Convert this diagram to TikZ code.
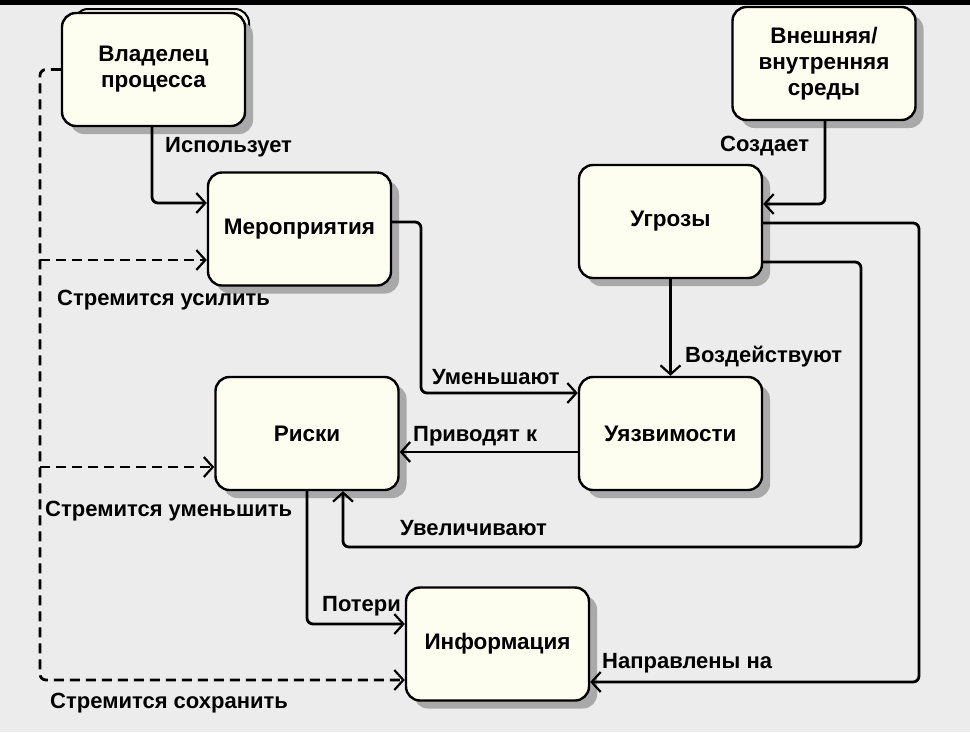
\documentclass[tikz,border=0pt]{standalone}
\usepackage{fontspec}
\setmainfont{Liberation Sans}
\usetikzlibrary{arrows.meta,shadows}
\definecolor{bg}{HTML}{ECECEC}
\definecolor{boxfill}{HTML}{FEFEF0}
\definecolor{shad}{HTML}{A9A9A9}
\tikzset{
 box/.style={draw=black, line width=2.4pt, rounded corners=14pt, fill=boxfill,
   minimum width=183pt, minimum height=113pt, align=center, inner sep=0pt,
   font=\fontsize{22.5}{26}\selectfont\bfseries,
   drop shadow={shadow xshift=8pt, shadow yshift=-8pt, fill=shad, opacity=1}},
 conn/.style={line width=2.8pt, rounded corners=6pt,
   -{Straight Barb[length=9pt,width=20pt,line width=2.2pt]}},
 dconn/.style={conn, dash pattern=on 10pt off 6pt},
 lbl/.style={font=\fontsize{22}{24}\selectfont\bfseries, inner sep=0pt, anchor=west},
}
\begin{document}
\begin{tikzpicture}[x=1pt,y=-1pt]
\useasboundingbox (0,0) rectangle (970,732);
\fill[bg] (0,0) rectangle (970,732);
\fill[black] (0,0) rectangle (970,5);

% stacked outline behind the owner box
\draw[line width=2pt, rounded corners=14pt, fill=boxfill] (74,9) rectangle (249,122);
\node[box] (owner) at (153.5,69.5) {Владелец\\процесса};
\node[box] (meas) at (299.5,229) {Мероприятия};
\node[box] (env) at (824,63.5) {Внешняя/\\внутренняя\\среды};
\node[box] (thr) at (670.5,221.5) {Угрозы};
\node[box] (risk) at (307,433.5) {Риски};
\node[box] (vul) at (670.5,433.5) {Уязвимости};
\node[box] (info) at (497.5,644) {Информация};

\coordinate (tb) at (40,680);
\coordinate (b1) at (40,260);
\coordinate (b2) at (40,467);

% owner -> measures
\draw[conn] (owner.south -| 152,0) |- (meas.west |- 0,203);
% dashed owner links
\draw[dconn] (owner.west) -| (tb) -- (info.west |- tb);
\draw[dconn] (b1) -- (meas.west |- b1);
\draw[dconn] (b2) -- (risk.west |- b2);
% measures -> vulnerabilities
\draw[conn] (meas.east |- 0,222) -- (421,222) -- (421,393) -- (vul.west |- 0,393);
% threats -> vulnerabilities
\draw[conn] (thr.south) -- (vul.north);
% environment -> threats
\draw[conn] (env.south -| 825,0) |- (thr.east |- 0,204);
% vulnerabilities -> risks
\draw[conn] (vul.west |- 0,452) -- (risk.east |- 0,452);
% threats -> risks
\draw[conn] (thr.east |- 0,262) -- (861,262) -- (861,547) -- (343,547) -- (risk.south -| 343,0);
% threats -> information
\draw[conn] (thr.east |- 0,223) -- (919,223) -- (919,682) -- (info.east |- 0,682);
% risks -> information
\draw[conn] (risk.south -| 307,0) |- (info.west |- 0,624);

\node[lbl] (l1) at (165,147) {Использует};
\node[lbl] (l2) at (57,300) {Стремится усилить};
\node[lbl] (l3) at (45,511) {Стремится уменьшить};
\node[lbl] (l4) at (50,703) {Стремится сохранить};
\node[lbl] (l5) at (432,377) {Уменьшают};
\node[lbl] (l6) at (685,357) {Воздействуют};
\node[lbl] (l7) at (720,146) {Создает};
\node[lbl] (l8) at (413,436) {Приводят к};
\node[lbl] (l9) at (400,528) {Увеличивают};
\node[lbl] (l10) at (602,663) {Направлены на};
\node[lbl] (l11) at (322,606) {Потери};
\end{tikzpicture}
\end{document}
